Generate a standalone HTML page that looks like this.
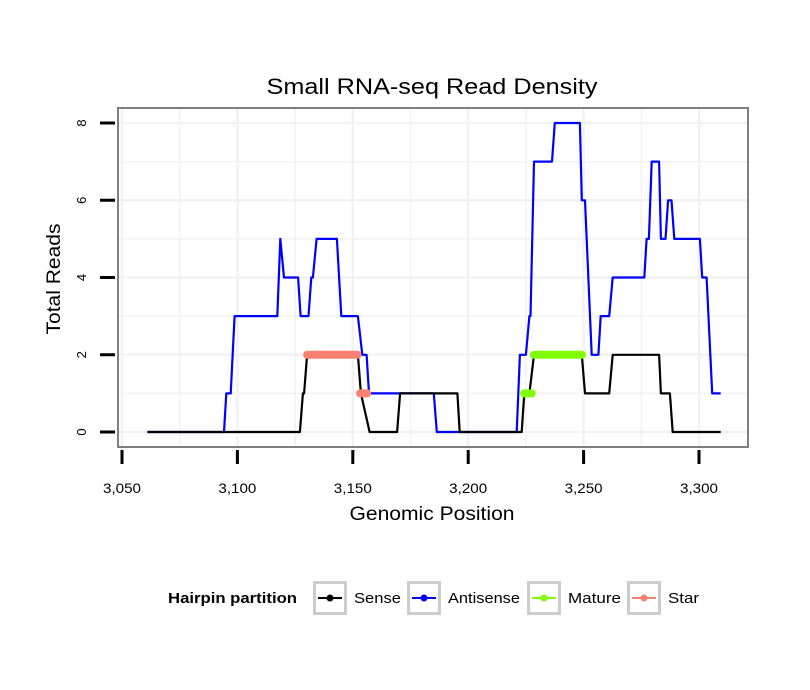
<!DOCTYPE html>
<html><head><meta charset="utf-8"><style>
html,body{margin:0;padding:0;background:#fff;}
svg{display:block;font-family:"Liberation Sans",sans-serif;}
</style></head><body>
<svg id="chart" width="810" height="690" viewBox="0 0 810 690">
<rect x="0" y="0" width="810" height="690" fill="#fff"/>
<text x="432" y="94" text-anchor="middle" font-size="22" textLength="331" lengthAdjust="spacingAndGlyphs">Small RNA-seq Read Density</text>
<g id="grid"></g>
<g id="series"></g>
<rect x="118" y="108" width="630" height="339" fill="none" stroke="#7f7f7f" stroke-width="2"/>
<g id="axes"></g>
<text x="432" y="520" text-anchor="middle" font-size="19" textLength="165" lengthAdjust="spacingAndGlyphs">Genomic Position</text>
<text transform="translate(60,279) rotate(-90)" text-anchor="middle" font-size="19" textLength="111" lengthAdjust="spacingAndGlyphs">Total Reads</text>
<g id="legend">
<text x="168" y="603" font-size="15" font-weight="bold" textLength="129" lengthAdjust="spacingAndGlyphs">Hairpin partition</text>
</g>
</svg>
<script>
const xTicks=[3050,3100,3150,3200,3250,3300];
const xTickLabels=["3,050","3,100","3,150","3,200","3,250","3,300"];
const yTicks=[0,2,4,6,8];
const sensePos=[3061,3127.1,3128.4,3128.9,3130.2,3152.2,3153.5,3157.3,3169.2,3170.5,3195.3,3196.3,3223.2,3224.3,3226.5,3228.5,3249.2,3250.6,3261.1,3262.6,3282.7,3283.5,3287.4,3288.6,3309.4];
const senseVal=[0,0,1,1,2,2,1,0,0,1,1,0,0,1,1,2,2,1,1,2,2,1,1,0,0];
const antiPos=[3061,3094.2,3095.2,3097.1,3098.8,3117.3,3118.6,3120.2,3126.3,3127.4,3130.8,3132,3132.7,3134.3,3143.1,3145,3152.2,3154.1,3156,3157,3185.1,3186.4,3221,3222.4,3225,3226.5,3227,3228.5,3236.3,3237.5,3248.4,3249.2,3250.6,3253.5,3256.4,3257.4,3261.1,3262.6,3276.3,3277.3,3278.3,3279.5,3282.7,3283.5,3285.5,3286.6,3288.1,3289.3,3300.4,3301.4,3303.3,3305.7,3309.4];
const antiVal=[0,0,1,1,3,3,5,4,4,3,3,4,4,5,5,3,3,2,2,1,1,0,0,2,2,3,3,7,7,8,8,6,6,2,2,3,3,4,4,5,5,7,7,5,5,6,6,5,5,4,4,1,1];
const matureStart=[3224.2,3228.5];
const matureEnd=[3227.5,3249.3];
const matureVal=[1,2];
const starStart=[3130.2,3153.2];
const starEnd=[3152,3156.2];
const starVal=[2,1];

const NS="http://www.w3.org/2000/svg";
const X=v=>122+(v-3050)*(577/250);
const Y=v=>432-v*(309/8);
function mk(tag,attrs,parent){const e=document.createElementNS(NS,tag);for(const k in attrs)e.setAttribute(k,attrs[k]);parent.appendChild(e);return e;}
const grid=document.getElementById('grid'),series=document.getElementById('series'),axes=document.getElementById('axes'),legend=document.getElementById('legend');
mk('rect',{x:118,y:108,width:630,height:339,fill:'#fff'},grid);
for(let v=3025;v<=3325;v+=25){const x=X(v);if(x<119||x>747)continue;
 const l=mk('line',{x1:x,x2:x,y1:109,y2:446,stroke:'#f2f2f2','stroke-width':v%50===0?2.5:1.5},grid);
 
 }
for(let v=0;v<=8;v++){const y=Y(v);
 const l=mk('line',{x1:119,x2:747,y1:y,y2:y,stroke:'#f2f2f2','stroke-width':v%2===0?2.5:1.5},grid);
 
 }
function path(ps,vs,color,name){
 const d=ps.map((p,i)=>(i?'L':'M')+X(p).toFixed(1)+','+Y(vs[i]).toFixed(1)).join('');
 const e=mk('path',{d:d,fill:'none',stroke:color,'stroke-width':2.2,'stroke-linejoin':'round'},series);
 
 }
path(antiPos,antiVal,'#0000ff','antisense-line');
path(sensePos,senseVal,'#000','sense-line');
function segs(s,e2,v,color,name){s.forEach((st,i)=>{
 const e=mk('line',{x1:X(st),x2:X(e2[i]),y1:Y(v[i]),y2:Y(v[i]),stroke:color,'stroke-width':8,'stroke-linecap':'round'},series);
 
 });}
segs(matureStart,matureEnd,matureVal,'#7fff00','mature-segment');
segs(starStart,starEnd,starVal,'#fa8072','star-segment');
xTicks.forEach((v,i)=>{const x=X(v);
 const t=mk('line',{x1:x,x2:x,y1:450,y2:464,stroke:'#000','stroke-width':3},axes);
 
 
 const lb=mk('text',{x:x,y:493,'text-anchor':'middle','font-size':14,textLength:38,lengthAdjust:'spacingAndGlyphs'},axes);lb.textContent=xTickLabels[i];
 
 });
yTicks.forEach(v=>{const y=Y(v);
 const t=mk('line',{x1:100,x2:115,y1:y,y2:y,stroke:'#000','stroke-width':3},axes);
 
 
 const lb=mk('text',{transform:`translate(86,${y}) rotate(-90)`,'text-anchor':'middle','font-size':13},axes);lb.textContent=v;
 
 });
const legNames=['Sense','Antisense','Mature','Star'];
const legColors=['#000','#0000ff','#7fff00','#fa8072'];
const legX=[313,407,527,627];
const legW=[47,72,53,31];
legNames.forEach((n,i)=>{const x=legX[i];
 const g=mk('g',{},legend);
 
 
 mk('rect',{x:x+1.5,y:582.5,width:31,height:31,fill:'#fff',stroke:'#cccccc','stroke-width':3},g);
 mk('line',{x1:x+5,x2:x+29,y1:598,y2:598,stroke:legColors[i],'stroke-width':2},g);
 mk('circle',{cx:x+17,cy:598,r:3.5,fill:legColors[i]},g);
 const t=mk('text',{x:x+41,y:603,'font-size':15,textLength:legW[i],lengthAdjust:'spacingAndGlyphs'},g);t.textContent=n;});
</script>
</body></html>
